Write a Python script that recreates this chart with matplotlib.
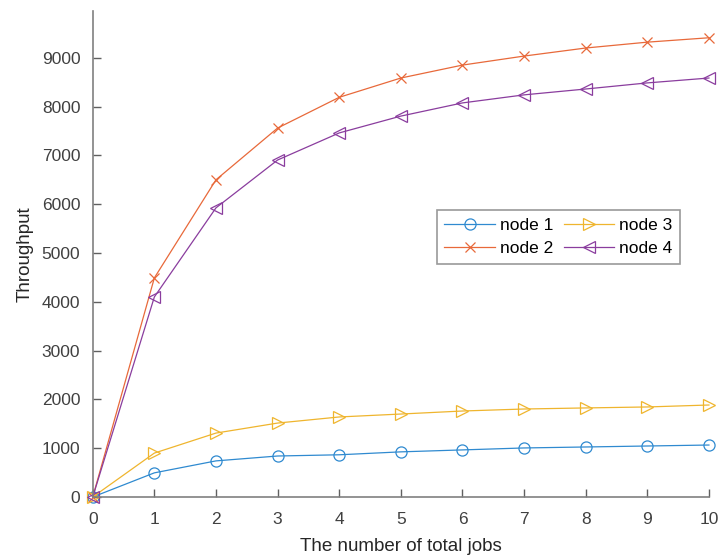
import matplotlib.pyplot as plt

plt.rcParams['font.family'] = ['Liberation Sans', 'DejaVu Sans']

jobs = [0, 1, 2, 3, 4, 5, 6, 7, 8, 9, 10]
node1 = [0, 495, 740, 840, 865, 925, 965, 1005, 1025, 1045, 1065]
node2 = [0, 4490, 6500, 7560, 8190, 8585, 8850, 9035, 9200, 9320, 9410]
node3 = [0, 900, 1310, 1515, 1640, 1700, 1762, 1803, 1825, 1845, 1885]
node4 = [0, 4100, 5925, 6905, 7460, 7805, 8075, 8240, 8360, 8485, 8585]
yticks = [0, 1000, 2000, 3000, 4000, 5000, 6000, 7000, 8000, 9000]

fig = plt.figure(figsize=(7.19, 5.6), dpi=100)
ax = fig.add_axes([0.129, 0.1125, 0.857, 0.868])

style = dict(lw=0.9, mfc='none', mew=0.9, clip_on=False)
ax.plot(jobs, node1, '-o', color='#2f8ad0', ms=8, label='node 1', **style)
ax.plot(jobs, node2, '-x', color='#e8693a', ms=7, label='node 2', **style)
ax.plot(jobs, node3, '->', color='#efb52e', ms=9, label='node 3', **style)
ax.plot(jobs, node4, '-<', color='#8a3d9e', ms=9, label='node 4', **style)

ax.set_xlim(0, 10)
ax.set_ylim(0, 9960)
ax.set_xticks(jobs)
ax.set_yticks(yticks)
for s in ['top', 'right']:
    ax.spines[s].set_visible(False)
for s in ['left', 'bottom']:
    ax.spines[s].set_color('#808080')
    ax.spines[s].set_linewidth(1.2)
ax.tick_params(direction='in', length=6, width=1, color='#606060',
               labelcolor='#404040', labelsize=12.5, pad=9)
ax.tick_params(axis='x', pad=11)

ax.set_xlabel('The number of total jobs', fontsize=13.5, color='#262626', labelpad=8)
ax.set_ylabel('Throughput', fontsize=13.5, color='#262626', labelpad=6)

leg = ax.legend(ncol=2, loc='upper left', bbox_to_anchor=(0.558, 0.59),
                fontsize=12.5, frameon=True, fancybox=False, handlelength=2.9,
                columnspacing=0.6, handletextpad=0.3, borderpad=0.45,
                labelspacing=0.45, borderaxespad=0)
leg.get_frame().set_edgecolor('#808080')
leg.get_frame().set_linewidth(1.2)

fig.savefig('out.png')
